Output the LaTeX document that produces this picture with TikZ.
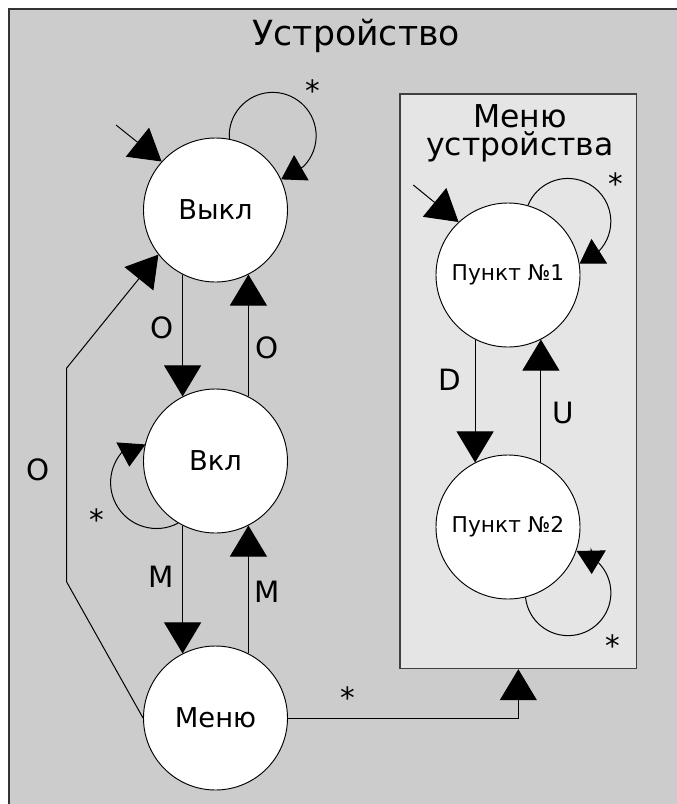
\documentclass[tikz,border=0pt]{standalone}
\usepackage{fontspec}
\setmainfont{DejaVu Sans}
\usetikzlibrary{arrows.meta}
\definecolor{devbg}{RGB}{204,204,204}
\definecolor{menubg}{RGB}{229,229,229}
\definecolor{framecol}{RGB}{51,51,51}
\definecolor{boxcol}{RGB}{64,64,64}

\begin{document}
\begin{tikzpicture}[x=0.75pt,y=-0.75pt,
  state/.style={circle, draw=black, line width=0.7pt, fill=white,
    minimum size=108pt, inner sep=0pt, font=\fontsize{20.5}{24}\selectfont},
  substate/.style={state, font=\fontsize{16.3}{19}\selectfont},
  conn/.style={draw=black, line width=0.75pt,
    -{Triangle[length=23.25pt,width=27.75pt]}},
  loopconn/.style={draw=black, line width=0.75pt,
    -{Triangle[length=17.5pt,width=21.75pt]}},
  lbl/.style={font=\fontsize{22}{26}\selectfont, inner sep=0pt},
  starlbl/.style={lbl},
  title/.style={font=\fontsize{26}{30}\selectfont, inner sep=0pt},
  subtitle/.style={font=\fontsize{23.6}{21}\selectfont, inner sep=0pt, align=center},
  menubox/.style={rectangle, draw=boxcol, line width=1.1pt, fill=menubg,
    minimum width=177.5pt, minimum height=430.9pt, inner sep=0pt}
]
\useasboundingbox (0,0) rectangle (677,804);
\clip (0,0) rectangle (677,804);
\fill[white] (0,0) rectangle (677,804);

% device frame
\draw[draw=framecol, fill=devbg, line width=1.6pt] (9,9) rectangle (700,830);
\node[title, anchor=base] (devtitle) at (356.3,45) {Устройство};

% device menu sub-machine
\node[menubox] (mbox) at (518.35,381.2) {};
\node[subtitle, anchor=north] (mtitle) at (520,104) {Меню\\устройства};

% states
\node[state] (vykl) at (215.5,210) {Выкл};
\node[state] (vkl) at (215.5,461) {Вкл};
\node[state] (menu) at (215.5,718) {Меню};
\node[substate] (p1) at (508,275) {Пункт №1};
\node[substate] (p2) at (508,527) {Пункт №2};

% initial transitions
\coordinate (vyklinit) at (116,125);
\draw[conn] (vyklinit) -- (vykl.138);
\coordinate (p1init) at (413.3,185);
\draw[conn] (p1init) -- (p1.133);

% power / menu transitions
\draw[conn] (vykl.243) -- (vkl.117);
\draw[conn] (vkl.63) -- (vykl.297);
\draw[conn] (vkl.243) -- (menu.117);
\draw[conn] (menu.63) -- (vkl.297);
\coordinate (obendlow) at (66.7,582);
\coordinate (obendhigh) at (66.7,368);
\draw[conn] (menu.180) -- (obendlow) -- (obendhigh) -- (vykl.218);
\draw[conn] (menu.east) -| (mbox.south);

% menu navigation
\draw[conn] (p1.243) -- (p2.117);
\draw[conn] (p2.63) -- (p1.297);

% self loops
\draw[loopconn] (vykl.79) arc[start angle=184, end angle=-45, radius=32.6pt] -- (vykl.25);
\draw[loopconn] (p1.74) arc[start angle=158, end angle=-45, radius=32.25pt] -- (p1.9);
\coordinate (vkllooptip) at (129.3,466.7);
\draw[loopconn] (vkl.239) arc[start angle=-62, end angle=-236, radius=34.5pt] -- (vkllooptip);
\coordinate (p2loopbase) at (591.2,550);
\coordinate (p2looptip) at (591.7,574);
\draw[loopconn] (p2.284) arc[start angle=186, end angle=410, radius=32.1pt] -- (p2loopbase) -- (p2looptip);

% transition labels
\node[lbl] (lo1) at (162.3,328.3) {O};
\node[lbl] (lo2) at (266.7,348.3) {O};
\node[lbl] (lo3) at (38.3,470) {O};
\node[lbl] (lm1) at (161,576.7) {M};
\node[lbl] (lm2) at (266.7,591.7) {M};
\node[lbl] (ld) at (450,380) {D};
\node[lbl] (lu) at (563,413) {U};
\node[starlbl] (st1) at (313.3,91) {*};
\node[starlbl] (st2) at (96.7,519.3) {*};
\node[starlbl] (st3) at (616,183.3) {*};
\node[starlbl] (st4) at (612.7,645.3) {*};
\node[starlbl] (st5) at (348,698) {*};
\end{tikzpicture}
\end{document}
